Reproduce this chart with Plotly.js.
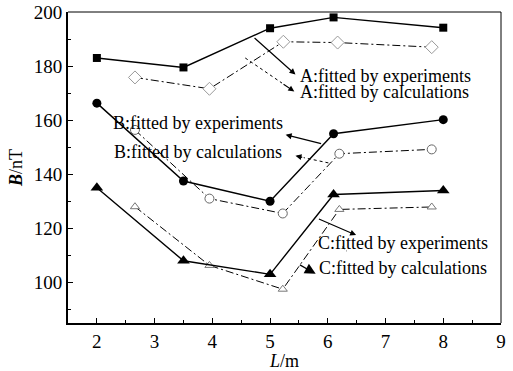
<!DOCTYPE html>
<html>
<head>
<meta charset="utf-8">
<script src="https://cdn.plot.ly/plotly-3.0.1.min.js"></script>
<style>html,body{margin:0;padding:0;background:#fff;}#chart{width:513px;height:371px;}</style>
</head>
<body>
<div id="chart"></div>
<script>
// ---- data ----
var xAExp = [2, 3.5, 5, 6.1, 8];
var yAExp = [183, 179.5, 194, 198, 194.2];
var xACalc = [2.66, 3.95, 5.23, 6.17, 7.8];
var yACalc = [175.8, 171.6, 189, 188.7, 187];

var xBExp = [2, 3.5, 5, 6.1, 8];
var yBExp = [166.3, 137.5, 130, 155, 160.2];
var xBCalc = [2.66, 3.95, 5.22, 6.2, 7.8];
var yBCalc = [156.4, 131, 125.5, 147.6, 149.2];

var xCExp = [2, 3.5, 5, 6.1, 8];
var yCExp = [135, 108, 103, 132.5, 134];
var xCCalc = [2.66, 3.95, 5.22, 6.2, 7.8];
var yCCalc = [128, 106.3, 97.5, 127, 127.9];

var labels = ['A:fitted by experiments', 'A:fitted by calculations',
              'B:fitted by experiments', 'B:fitted by calculations',
              'C:fitted by experiments', 'C:fitted by calculations'];
// label anchor positions (left edge, middle) in data units
var labelX = [5.49, 5.48, 2.25, 2.27, 5.79, 5.81];
var labelY = [176.5, 170.4, 159.1, 148.3, 114.7, 105.3];

var xTicks = [2, 3, 4, 5, 6, 7, 8, 9];
var yTicks = [100, 120, 140, 160, 180, 200];

// ---- traces ----
var FONT = '"Liberation Serif", "Times New Roman", Times, serif';
var DD = '8px,3px,2px,3px';
function expTrace(x, y, sym, size) {
  return {x: x, y: y, mode: 'lines+markers', type: 'scatter',
    line: {color: '#000', width: 1.4},
    marker: {symbol: sym, size: size, color: '#000'}};
}
function calcTrace(x, y, sym, size, mc) {
  return {x: x, y: y, mode: 'lines+markers', type: 'scatter',
    line: {color: '#000', width: 1, dash: DD},
    marker: {symbol: sym, size: size, color: '#fff', line: {color: mc, width: 1}}};
}
var data = [
  calcTrace(xACalc, yACalc, 'diamond', 10, '#999'),
  expTrace(xAExp, yAExp, 'square', 8),
  calcTrace(xBCalc, yBCalc, 'circle', 9, '#666'),
  expTrace(xBExp, yBExp, 'circle', 9),
  calcTrace(xCCalc, yCCalc, 'triangle-up', 8, '#777'),
  expTrace(xCExp, yCExp, 'triangle-up', 11)
];

// ---- annotations ----
var annotations = [];
for (var i = 0; i < labels.length; i++) {
  annotations.push({x: labelX[i], y: labelY[i], xref: 'x', yref: 'y', text: labels[i],
    showarrow: false, xanchor: 'left', yanchor: 'middle',
    font: {family: FONT, size: 18, color: '#000'}});
}
// arrows: [tailX, tailY, headX, headY, dotted, headSize]
var arrows = [
  [4.705, 190.9, 5.44, 176.9, false, 1],
  [4.57, 183.0, 5.42, 170.6, true, 1],
  [5.91, 151.2, 5.27, 154.6, false, 1],
  [6.01, 144.2, 5.44, 146.8, true, 1],
  [5.82, 123.7, 6.49, 117.5, false, 1],
  [6.25, 113.2, 6.36, 110.9, true, 1],
  [5.49, 106.8, 5.79, 103.2, false, 1.8]
];
var shapes = [
  {type: 'line', xref: 'paper', yref: 'paper', x0: 0, x1: 1, y0: 1, y1: 1, line: {color: '#000', width: 1}},
  {type: 'line', xref: 'paper', yref: 'paper', x0: 1, x1: 1, y0: 0, y1: 1, line: {color: '#000', width: 1}}
];
arrows.forEach(function (a) {
  var tx = a[0], ty = a[1], hx = a[2], hy = a[3];
  if (a[4]) {
    var mx = hx - (hx - tx) * 0.25, my = hy - (hy - ty) * 0.25;
    shapes.push({type: 'line', xref: 'x', yref: 'y', x0: tx, y0: ty, x1: mx, y1: my,
      line: {color: '#000', width: 1, dash: 'dot'}});
    tx = mx; ty = my;
  }
  annotations.push({x: hx, y: hy, xref: 'x', yref: 'y', ax: tx, ay: ty, axref: 'x', ayref: 'y',
    text: ' ', font: {size: 1}, showarrow: true, arrowhead: 2, arrowsize: a[5], arrowwidth: 1.2,
    arrowcolor: '#000', standoff: 0, startstandoff: 0});
});

var layout = {
  width: 513, height: 371,
  margin: {l: 68, r: 12, t: 12, b: 48, pad: 0},
  paper_bgcolor: '#fff', plot_bgcolor: '#fff',
  showlegend: false,
  font: {family: FONT, color: '#000', size: 18},
  xaxis: {range: [1.5, 9], tickvals: xTicks, ticks: 'inside', ticklen: 5, tickwidth: 1, tickcolor: '#000',
    showline: true, linewidth: 2, linecolor: '#000', showgrid: false, zeroline: false,
    minor: {ticks: 'inside', ticklen: 3, tickwidth: 1, tickcolor: '#000', tickvals: [2.5, 3.5, 4.5, 5.5, 6.5, 7.5, 8.5]},
    tickfont: {family: FONT, size: 19, color: '#000'},
    title: {text: '<i>L</i>/m', font: {family: FONT, size: 18, color: '#000'}, standoff: 10}},
  yaxis: {range: [85, 200], tickvals: yTicks, ticks: 'inside', ticklen: 5, tickwidth: 1, tickcolor: '#000',
    showline: true, linewidth: 2, linecolor: '#000', showgrid: false, zeroline: false,
    minor: {ticks: 'inside', ticklen: 3, tickwidth: 1, tickcolor: '#000', tickvals: [90, 110, 130, 150, 170, 190]},
    tickfont: {family: FONT, size: 19, color: '#000'},
    title: {text: '<b><i>B</i></b>/nT', font: {family: FONT, size: 18, color: '#000'}, standoff: 6}},
  annotations: annotations,
  shapes: shapes
};
Plotly.newPlot('chart', data, layout, {displayModeBar: false, staticPlot: true});
</script>
</body>
</html>
